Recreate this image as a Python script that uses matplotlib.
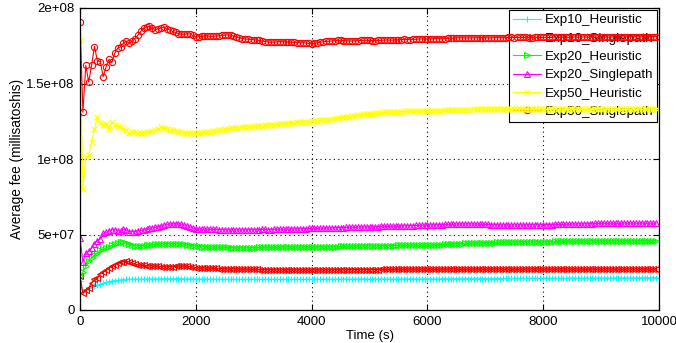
import matplotlib
matplotlib.use("Agg")
import matplotlib.pyplot as plt

plt.rcParams['font.family'] = ['Liberation Sans', 'DejaVu Sans']

# sampling times (s), one sample every 50 s
times = list(range(0, 10000, 50))

# values in units of 1e8 millisatoshis (20 samples per row = 1000 s)
exp10_heuristic = [
    0.19, 0.12, 0.135, 0.145, 0.155, 0.162, 0.166, 0.172, 0.177, 0.183, 0.188, 0.192, 0.195, 0.197, 0.199, 0.201, 0.203, 0.203, 0.204, 0.204,
    0.205, 0.205, 0.205, 0.205, 0.206, 0.206, 0.206, 0.206, 0.207, 0.207, 0.207, 0.207, 0.207, 0.207, 0.207, 0.207, 0.206, 0.206, 0.206, 0.206,
    0.205, 0.205, 0.205, 0.205, 0.204, 0.204, 0.204, 0.204, 0.204, 0.204, 0.203, 0.203, 0.203, 0.203, 0.203, 0.203, 0.203, 0.203, 0.203, 0.203,
    0.203, 0.203, 0.203, 0.203, 0.203, 0.203, 0.203, 0.203, 0.203, 0.203, 0.203, 0.203, 0.203, 0.203, 0.203, 0.203, 0.203, 0.203, 0.203, 0.203,
    0.203, 0.203, 0.203, 0.203, 0.204, 0.204, 0.204, 0.204, 0.204, 0.204, 0.204, 0.204, 0.204, 0.204, 0.205, 0.205, 0.205, 0.205, 0.205, 0.205,
    0.205, 0.205, 0.205, 0.205, 0.205, 0.205, 0.205, 0.205, 0.205, 0.205, 0.206, 0.206, 0.206, 0.206, 0.206, 0.206, 0.206, 0.206, 0.206, 0.206,
    0.206, 0.206, 0.206, 0.206, 0.207, 0.207, 0.207, 0.207, 0.207, 0.207, 0.207, 0.207, 0.207, 0.207, 0.208, 0.208, 0.208, 0.208, 0.208, 0.208,
    0.208, 0.208, 0.208, 0.208, 0.208, 0.208, 0.209, 0.209, 0.209, 0.209, 0.209, 0.209, 0.209, 0.209, 0.209, 0.209, 0.21, 0.21, 0.21, 0.21,
    0.21, 0.21, 0.21, 0.21, 0.21, 0.21, 0.21, 0.21, 0.211, 0.211, 0.211, 0.211, 0.211, 0.211, 0.211, 0.211, 0.212, 0.212, 0.212, 0.212,
    0.212, 0.212, 0.212, 0.212, 0.213, 0.213, 0.213, 0.213, 0.213, 0.213, 0.213, 0.213, 0.214, 0.214, 0.214, 0.214, 0.214, 0.214, 0.214, 0.214,
]
exp10_singlepath = [
    0.225, 0.11, 0.13, 0.143, 0.18, 0.203, 0.21, 0.24, 0.25, 0.265, 0.28, 0.29, 0.30, 0.31, 0.315, 0.32, 0.322, 0.32, 0.31, 0.303,
    0.298, 0.297, 0.295, 0.294, 0.292, 0.291, 0.29, 0.289, 0.288, 0.288, 0.287, 0.287, 0.288, 0.289, 0.29, 0.29, 0.29, 0.289, 0.288, 0.284,
    0.28, 0.279, 0.278, 0.277, 0.276, 0.276, 0.275, 0.275, 0.274, 0.274, 0.273, 0.273, 0.272, 0.272, 0.271, 0.271, 0.27, 0.27, 0.27, 0.27,
    0.269, 0.269, 0.268, 0.268, 0.267, 0.267, 0.266, 0.266, 0.266, 0.266, 0.265, 0.265, 0.265, 0.265, 0.265, 0.265, 0.265, 0.265, 0.265, 0.265,
    0.265, 0.265, 0.265, 0.265, 0.266, 0.266, 0.266, 0.266, 0.267, 0.267, 0.267, 0.267, 0.268, 0.268, 0.268, 0.268, 0.268, 0.268, 0.268, 0.268,
    0.268, 0.268, 0.268, 0.268, 0.269, 0.269, 0.269, 0.269, 0.269, 0.269, 0.269, 0.269, 0.27, 0.27, 0.27, 0.27, 0.27, 0.27, 0.27, 0.27,
    0.27, 0.27, 0.269, 0.269, 0.27, 0.27, 0.27, 0.27, 0.271, 0.271, 0.27, 0.27, 0.269, 0.269, 0.27, 0.27, 0.27, 0.27, 0.27, 0.27,
    0.27, 0.27, 0.27, 0.27, 0.271, 0.271, 0.27, 0.27, 0.27, 0.27, 0.269, 0.269, 0.27, 0.27, 0.27, 0.27, 0.271, 0.271, 0.27, 0.27,
    0.27, 0.27, 0.27, 0.27, 0.27, 0.27, 0.271, 0.271, 0.27, 0.27, 0.27, 0.27, 0.27, 0.27, 0.269, 0.269, 0.27, 0.27, 0.27, 0.27,
    0.27, 0.27, 0.271, 0.271, 0.27, 0.27, 0.27, 0.27, 0.27, 0.27, 0.271, 0.271, 0.27, 0.27, 0.27, 0.27, 0.27, 0.27, 0.27, 0.27,
]
exp20_heuristic = [
    0.225, 0.25, 0.29, 0.325, 0.345, 0.365, 0.38, 0.395, 0.405, 0.41, 0.42, 0.428, 0.437, 0.446, 0.452, 0.45, 0.445, 0.437, 0.43, 0.427,
    0.424, 0.425, 0.427, 0.428, 0.43, 0.432, 0.434, 0.436, 0.438, 0.439, 0.44, 0.44, 0.44, 0.44, 0.44, 0.44, 0.435, 0.433, 0.43, 0.427,
    0.424, 0.422, 0.42, 0.419, 0.418, 0.417, 0.416, 0.416, 0.415, 0.415, 0.414, 0.414, 0.413, 0.413, 0.413, 0.413, 0.413, 0.413, 0.413, 0.413,
    0.413, 0.413, 0.414, 0.414, 0.414, 0.414, 0.415, 0.415, 0.415, 0.415, 0.416, 0.416, 0.416, 0.416, 0.417, 0.417, 0.418, 0.418, 0.418, 0.418,
    0.418, 0.418, 0.418, 0.418, 0.419, 0.419, 0.42, 0.42, 0.42, 0.42, 0.421, 0.421, 0.422, 0.422, 0.423, 0.423, 0.424, 0.424, 0.425, 0.425,
    0.425, 0.425, 0.426, 0.426, 0.426, 0.426, 0.427, 0.427, 0.427, 0.427, 0.428, 0.428, 0.428, 0.428, 0.428, 0.428, 0.428, 0.428, 0.428, 0.428,
    0.429, 0.429, 0.43, 0.431, 0.432, 0.433, 0.434, 0.435, 0.436, 0.437, 0.438, 0.439, 0.44, 0.441, 0.442, 0.442, 0.443, 0.443, 0.444, 0.445,
    0.446, 0.446, 0.447, 0.447, 0.448, 0.448, 0.449, 0.449, 0.45, 0.45, 0.451, 0.451, 0.451, 0.451, 0.452, 0.452, 0.452, 0.452, 0.452, 0.452,
    0.453, 0.453, 0.453, 0.453, 0.454, 0.454, 0.455, 0.455, 0.456, 0.456, 0.456, 0.456, 0.457, 0.457, 0.457, 0.457, 0.458, 0.458, 0.458, 0.458,
    0.459, 0.459, 0.459, 0.459, 0.459, 0.459, 0.46, 0.46, 0.46, 0.46, 0.46, 0.46, 0.46, 0.46, 0.46, 0.46, 0.46, 0.46, 0.46, 0.46,
]
exp20_singlepath = [
    0.475, 0.32, 0.375, 0.39, 0.41, 0.44, 0.46, 0.47, 0.508, 0.514, 0.523, 0.532, 0.532, 0.525, 0.525, 0.534, 0.53, 0.519, 0.519, 0.519,
    0.525, 0.527, 0.53, 0.535, 0.54, 0.544, 0.548, 0.552, 0.556, 0.562, 0.567, 0.569, 0.57, 0.571, 0.57, 0.568, 0.565, 0.558, 0.55, 0.543,
    0.538, 0.537, 0.536, 0.536, 0.535, 0.535, 0.534, 0.534, 0.533, 0.532, 0.532, 0.531, 0.531, 0.53, 0.53, 0.53, 0.53, 0.531, 0.531, 0.532,
    0.532, 0.532, 0.533, 0.534, 0.534, 0.533, 0.533, 0.534, 0.534, 0.535, 0.535, 0.536, 0.536, 0.537, 0.537, 0.538, 0.538, 0.539, 0.539, 0.54,
    0.54, 0.54, 0.541, 0.542, 0.542, 0.543, 0.544, 0.544, 0.545, 0.545, 0.546, 0.546, 0.547, 0.548, 0.548, 0.548, 0.549, 0.549, 0.55, 0.55,
    0.551, 0.551, 0.552, 0.552, 0.553, 0.553, 0.554, 0.554, 0.555, 0.555, 0.556, 0.557, 0.558, 0.558, 0.559, 0.559, 0.56, 0.561, 0.562, 0.563,
    0.564, 0.564, 0.565, 0.565, 0.566, 0.566, 0.567, 0.567, 0.568, 0.568, 0.569, 0.569, 0.57, 0.57, 0.57, 0.57, 0.569, 0.569, 0.568, 0.568,
    0.567, 0.567, 0.566, 0.566, 0.565, 0.565, 0.564, 0.564, 0.564, 0.563, 0.563, 0.563, 0.564, 0.564, 0.564, 0.564, 0.565, 0.565, 0.565, 0.565,
    0.566, 0.566, 0.566, 0.566, 0.567, 0.567, 0.567, 0.567, 0.568, 0.568, 0.569, 0.569, 0.57, 0.57, 0.571, 0.571, 0.572, 0.572, 0.573, 0.573,
    0.574, 0.574, 0.574, 0.574, 0.575, 0.575, 0.575, 0.575, 0.575, 0.575, 0.575, 0.575, 0.575, 0.575, 0.575, 0.575, 0.575, 0.575, 0.575, 0.575,
]
exp50_heuristic = [
    1.79, 0.80, 1.01, 1.025, 1.11, 1.20, 1.275, 1.24, 1.225, 1.235, 1.20, 1.245, 1.225, 1.22, 1.21, 1.20, 1.19, 1.17, 1.18, 1.18,
    1.175, 1.172, 1.175, 1.178, 1.18, 1.185, 1.19, 1.20, 1.21, 1.205, 1.20, 1.195, 1.19, 1.185, 1.18, 1.178, 1.175, 1.172, 1.17, 1.17,
    1.17, 1.172, 1.175, 1.178, 1.18, 1.182, 1.185, 1.188, 1.19, 1.195, 1.20, 1.201, 1.203, 1.205, 1.207, 1.208, 1.21, 1.211, 1.213, 1.214,
    1.216, 1.218, 1.22, 1.221, 1.223, 1.225, 1.226, 1.228, 1.23, 1.232, 1.233, 1.235, 1.236, 1.238, 1.24, 1.242, 1.244, 1.245, 1.247, 1.248,
    1.25, 1.251, 1.253, 1.255, 1.257, 1.258, 1.26, 1.263, 1.266, 1.269, 1.272, 1.275, 1.278, 1.281, 1.284, 1.287, 1.29, 1.292, 1.295, 1.297,
    1.299, 1.301, 1.303, 1.305, 1.306, 1.308, 1.309, 1.31, 1.311, 1.312, 1.313, 1.314, 1.315, 1.315, 1.316, 1.316, 1.317, 1.317, 1.318, 1.318,
    1.318, 1.319, 1.32, 1.32, 1.321, 1.321, 1.322, 1.322, 1.323, 1.324, 1.325, 1.325, 1.326, 1.326, 1.327, 1.327, 1.328, 1.328, 1.329, 1.329,
    1.33, 1.33, 1.33, 1.33, 1.33, 1.33, 1.329, 1.329, 1.33, 1.33, 1.33, 1.33, 1.329, 1.329, 1.328, 1.328, 1.33, 1.33, 1.329, 1.329,
    1.328, 1.328, 1.329, 1.329, 1.33, 1.33, 1.329, 1.329, 1.328, 1.328, 1.329, 1.329, 1.33, 1.33, 1.329, 1.329, 1.328, 1.328, 1.329, 1.329,
    1.33, 1.33, 1.329, 1.329, 1.328, 1.328, 1.329, 1.329, 1.33, 1.33, 1.33, 1.33, 1.329, 1.329, 1.33, 1.33, 1.33, 1.33, 1.33, 1.33,
]
exp50_singlepath = [
    1.91, 1.31, 1.62, 1.51, 1.62, 1.745, 1.65, 1.645, 1.545, 1.61, 1.66, 1.64, 1.70, 1.733, 1.744, 1.766, 1.78, 1.766, 1.78, 1.797,
    1.82, 1.845, 1.868, 1.875, 1.878, 1.87, 1.855, 1.862, 1.868, 1.872, 1.862, 1.855, 1.845, 1.838, 1.83, 1.826, 1.825, 1.83, 1.828, 1.818,
    1.808, 1.81, 1.812, 1.816, 1.815, 1.812, 1.812, 1.815, 1.815, 1.818, 1.82, 1.822, 1.818, 1.815, 1.808, 1.802, 1.798, 1.795, 1.793, 1.791,
    1.79, 1.788, 1.785, 1.781, 1.778, 1.775, 1.773, 1.774, 1.775, 1.777, 1.777, 1.776, 1.775, 1.773, 1.772, 1.771, 1.77, 1.769, 1.768, 1.765,
    1.762, 1.765, 1.77, 1.773, 1.776, 1.779, 1.78, 1.782, 1.784, 1.785, 1.785, 1.784, 1.783, 1.782, 1.781, 1.783, 1.784, 1.785, 1.786, 1.786,
    1.785, 1.784, 1.783, 1.785, 1.786, 1.787, 1.788, 1.787, 1.787, 1.789, 1.79, 1.791, 1.792, 1.791, 1.79, 1.792, 1.793, 1.794, 1.795, 1.795,
    1.794, 1.796, 1.797, 1.798, 1.798, 1.797, 1.797, 1.799, 1.80, 1.801, 1.802, 1.803, 1.803, 1.802, 1.801, 1.802, 1.802, 1.803, 1.804, 1.804,
    1.803, 1.802, 1.802, 1.803, 1.804, 1.804, 1.803, 1.804, 1.805, 1.805, 1.804, 1.805, 1.806, 1.806, 1.805, 1.804, 1.804, 1.805, 1.806, 1.806,
    1.805, 1.806, 1.806, 1.807, 1.807, 1.806, 1.806, 1.805, 1.805, 1.806, 1.807, 1.807, 1.806, 1.807, 1.808, 1.808, 1.807, 1.806, 1.806, 1.807,
    1.808, 1.808, 1.807, 1.807, 1.808, 1.809, 1.809, 1.808, 1.808, 1.809, 1.809, 1.81, 1.81, 1.809, 1.809, 1.81, 1.81, 1.81, 1.81, 1.81,
]

labels = ["Exp10_Heuristic", "Exp10_Singlepath", "Exp20_Heuristic",
          "Exp20_Singlepath", "Exp50_Heuristic", "Exp50_Singlepath"]
series = [exp10_heuristic, exp10_singlepath, exp20_heuristic,
          exp20_singlepath, exp50_heuristic, exp50_singlepath]
colors = ["#00ffff", "#ff0000", "#00ff00", "#ff00ff", "#ffff00", "#ff0000"]
markers = ["+", "<", ">", "^", "x", "o"]

x_ticks = [0, 2000, 4000, 6000, 8000, 10000]
x_ticklabels = ["0", "2000", "4000", "6000", "8000", "10000"]
y_ticks = [0, 0.5e8, 1e8, 1.5e8, 2e8]
y_ticklabels = ["0", "5e+07", "1e+08", "1.5e+08", "2e+08"]

fig = plt.figure(figsize=(6.76, 3.43), dpi=100)
ax = fig.add_axes([80/676, 33/343, 579/676, 302/343])

for vals, lab, col, mk in zip(series, labels, colors, markers):
    ax.plot(times, [v * 1e8 for v in vals], color=col, marker=mk, label=lab,
            linewidth=0.8, markersize=4.5, markerfacecolor='none',
            markeredgewidth=0.8, zorder=3)

ax.set_xlim(0, 10000)
ax.set_ylim(0, 2e8)
ax.set_xticks(x_ticks)
ax.set_xticklabels(x_ticklabels)
ax.set_yticks(y_ticks)
ax.set_yticklabels(y_ticklabels)
ax.tick_params(direction='in', top=True, right=True, labelsize=9.5,
               length=4, width=0.8, pad=4)
ax.grid(True, color='black', linestyle=(0, (1, 3)), linewidth=0.8, zorder=1)
for sp in ax.spines.values():
    sp.set_linewidth(0.9)
    sp.set_zorder(4)

ax.set_xlabel("Time (s)", fontsize=9.5, labelpad=2)
ax.set_ylabel("Average fee (millisatoshis)", fontsize=9.8, labelpad=1.5)

leg = ax.legend(loc='upper right', fontsize=9.6, frameon=True, fancybox=False,
                edgecolor='black', framealpha=1, borderaxespad=0.15,
                handlelength=2.1, handletextpad=0.25, labelspacing=0.45,
                borderpad=0.3)
leg.get_frame().set_linewidth(0.8)
leg.set_zorder(2)

fig.savefig("out.png", dpi=100)
